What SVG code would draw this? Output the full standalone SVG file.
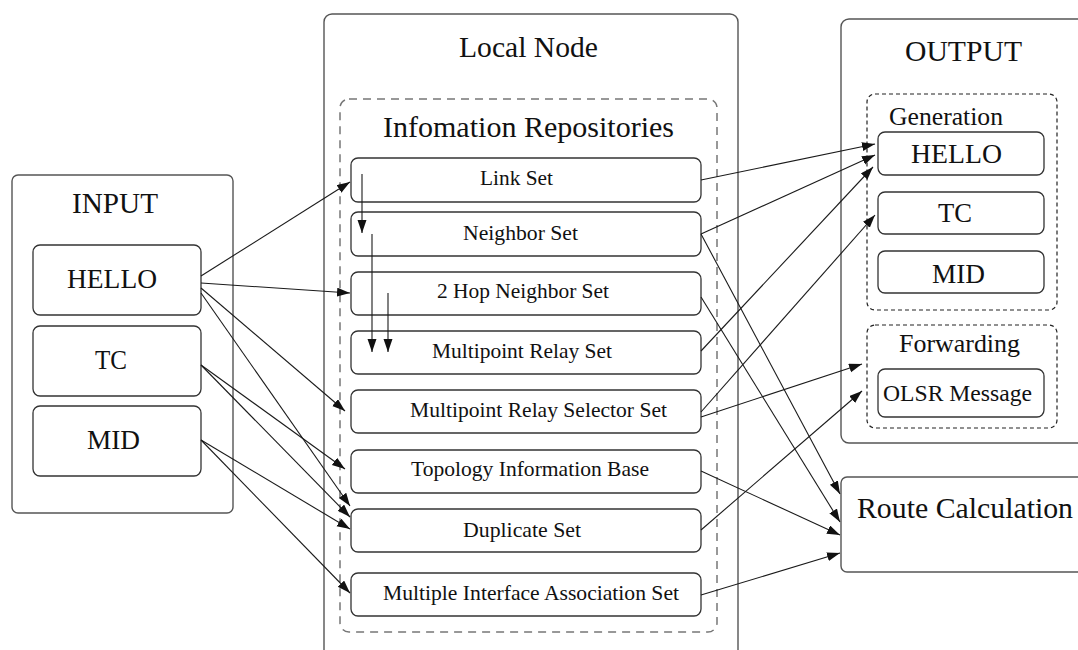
<svg xmlns="http://www.w3.org/2000/svg" width="1078" height="650" viewBox="0 0 1078 650">
  <style>
    .frame { fill: #fff; stroke: #555; stroke-width: 1.4; }
    .box { fill: #fff; stroke: #333; stroke-width: 1.3; }
    .repo { fill: none; stroke: #777; stroke-width: 1.5; stroke-dasharray: 8 6; }
    .group { fill: none; stroke: #222; stroke-width: 1.2; stroke-dasharray: 4 3; }
    text { font-family: "Liberation Serif", "Times New Roman", serif; fill: #111; text-anchor: middle; }
    .title { font-size: 29px; }
    .label { font-size: 27px; }
    .set { font-size: 21.5px; }
    .sub { font-size: 25px; }
    .edge { stroke: #1a1a1a; stroke-width: 1.1; fill: none; marker-end: url(#arrow); }
  </style>
  <defs>
    <marker id="arrow" markerUnits="userSpaceOnUse" markerWidth="14" markerHeight="10" refX="13" refY="4.5" orient="auto">
      <path d="M0,0 L13,4.5 L0,9 z" fill="#111"/>
    </marker>
  </defs>
  <rect width="1078" height="650" fill="#fff"/>

  <!-- input side -->
  <g id="input">
    <rect class="frame" x="12" y="175" width="221" height="338" rx="6"/>
    <text class="title" x="115" y="213" textLength="86" lengthAdjust="spacingAndGlyphs">INPUT</text>
  </g>
  <g id="in-hello">
    <rect class="box" x="33" y="245" width="168" height="70" rx="7"/>
    <text class="label" x="112" y="288" textLength="90" lengthAdjust="spacingAndGlyphs">HELLO</text>
  </g>
  <g id="in-tc">
    <rect class="box" x="33" y="326" width="168" height="70" rx="7"/>
    <text class="label" x="111" y="369" textLength="32" lengthAdjust="spacingAndGlyphs">TC</text>
  </g>
  <g id="in-mid">
    <rect class="box" x="33" y="406" width="168" height="70" rx="7"/>
    <text class="label" x="113.5" y="449" textLength="53" lengthAdjust="spacingAndGlyphs">MID</text>
  </g>

  <!-- local node with its repositories -->
  <g id="local-node">
    <rect class="frame" x="324" y="14" width="414" height="660" rx="8"/>
    <text class="title" x="528.5" y="57" textLength="139" lengthAdjust="spacingAndGlyphs">Local Node</text>
  </g>
  <g id="repositories">
    <rect class="repo" x="340" y="99" width="377" height="533" rx="9"/>
    <text class="title" x="528.5" y="137" textLength="291" lengthAdjust="spacingAndGlyphs">Infomation Repositories</text>
  </g>
  <g id="link-set">
    <rect class="box" x="351" y="158" width="350" height="44" rx="7"/>
    <text class="set" x="516.5" y="185" textLength="73" lengthAdjust="spacingAndGlyphs">Link Set</text>
  </g>
  <g id="neighbor-set">
    <rect class="box" x="351" y="212" width="350" height="44" rx="7"/>
    <text class="set" x="520.5" y="240" textLength="115" lengthAdjust="spacingAndGlyphs">Neighbor Set</text>
  </g>
  <g id="two-hop-set">
    <rect class="box" x="351" y="272" width="350" height="43" rx="7"/>
    <text class="set" x="523" y="298" textLength="172" lengthAdjust="spacingAndGlyphs">2 Hop Neighbor Set</text>
  </g>
  <g id="mpr-set">
    <rect class="box" x="351" y="331" width="350" height="43" rx="7"/>
    <text class="set" x="522" y="358" textLength="180" lengthAdjust="spacingAndGlyphs">Multipoint Relay Set</text>
  </g>
  <g id="mpr-selector-set">
    <rect class="box" x="351" y="390" width="350" height="43" rx="7"/>
    <text class="set" x="538.5" y="417" textLength="257" lengthAdjust="spacingAndGlyphs">Multipoint Relay Selector Set</text>
  </g>
  <g id="topology-base">
    <rect class="box" x="351" y="450" width="350" height="43" rx="7"/>
    <text class="set" x="530" y="476" textLength="238" lengthAdjust="spacingAndGlyphs">Topology Information Base</text>
  </g>
  <g id="duplicate-set">
    <rect class="box" x="351" y="509" width="350" height="43" rx="7"/>
    <text class="set" x="522" y="537" textLength="118" lengthAdjust="spacingAndGlyphs">Duplicate Set</text>
  </g>
  <g id="mia-set">
    <rect class="box" x="351" y="573" width="350" height="43" rx="7"/>
    <text class="set" x="531" y="600" textLength="296" lengthAdjust="spacingAndGlyphs">Multiple Interface Association Set</text>
  </g>

  <!-- output side -->
  <g id="output">
    <rect class="frame" x="841" y="19" width="260" height="424" rx="8"/>
    <text class="title" x="963.5" y="61" textLength="117" lengthAdjust="spacingAndGlyphs">OUTPUT</text>
  </g>
  <g id="generation">
    <rect class="group" x="867" y="94" width="190" height="216" rx="8"/>
    <text class="sub" x="946" y="125" textLength="114" lengthAdjust="spacingAndGlyphs">Generation</text>
  </g>
  <g id="out-hello">
    <rect class="box" x="878" y="132" width="166" height="43" rx="7"/>
    <text class="label" x="956.5" y="163" textLength="91" lengthAdjust="spacingAndGlyphs">HELLO</text>
  </g>
  <g id="out-tc">
    <rect class="box" x="878" y="192" width="166" height="42" rx="7"/>
    <text class="label" x="955" y="222" textLength="34" lengthAdjust="spacingAndGlyphs">TC</text>
  </g>
  <g id="out-mid">
    <rect class="box" x="878" y="251" width="166" height="42" rx="7"/>
    <text class="label" x="958.5" y="283" textLength="53" lengthAdjust="spacingAndGlyphs">MID</text>
  </g>
  <g id="forwarding">
    <rect class="group" x="867" y="325" width="190" height="103" rx="8"/>
    <text class="sub" x="959.5" y="352" textLength="121" lengthAdjust="spacingAndGlyphs">Forwarding</text>
  </g>
  <g id="olsr-message">
    <rect class="box" x="878" y="369" width="166" height="48" rx="7"/>
    <text class="set" x="957.5" y="401" style="font-size:23.5px" textLength="149" lengthAdjust="spacingAndGlyphs">OLSR Message</text>
  </g>
  <g id="route-calculation">
    <rect class="frame" x="841" y="477" width="260" height="95" rx="6"/>
    <text class="title" x="965" y="518" textLength="216" lengthAdjust="spacingAndGlyphs">Route Calculation</text>
  </g>

  <!-- connectors -->
  <g id="connectors">
    <!-- input messages into repositories -->
    <line class="edge" x1="201" y1="276" x2="350" y2="182"/>
    <line class="edge" x1="201" y1="283" x2="350" y2="293"/>
    <line class="edge" x1="201" y1="288" x2="345" y2="411"/>
    <line class="edge" x1="201" y1="293" x2="350" y2="506"/>
    <line class="edge" x1="201" y1="365" x2="345" y2="469"/>
    <line class="edge" x1="201" y1="365" x2="350" y2="517"/>
    <line class="edge" x1="201" y1="440" x2="350" y2="529"/>
    <line class="edge" x1="201" y1="440" x2="350" y2="593"/>
    <!-- dependencies between repositories -->
    <line class="edge" x1="362" y1="174" x2="362" y2="233"/>
    <line class="edge" x1="372" y1="234" x2="372" y2="352"/>
    <line class="edge" x1="388" y1="293" x2="388" y2="352"/>
    <!-- repositories to output and route calculation -->
    <line class="edge" x1="701" y1="180" x2="875" y2="144"/>
    <line class="edge" x1="701" y1="234" x2="875" y2="155"/>
    <line class="edge" x1="701" y1="234" x2="840" y2="494"/>
    <line class="edge" x1="701" y1="297" x2="840" y2="522"/>
    <line class="edge" x1="701" y1="351" x2="873" y2="167"/>
    <line class="edge" x1="701" y1="412" x2="875" y2="215"/>
    <line class="edge" x1="701" y1="417" x2="862" y2="364"/>
    <line class="edge" x1="701" y1="471" x2="840" y2="535"/>
    <line class="edge" x1="701" y1="530" x2="862" y2="391"/>
    <line class="edge" x1="701" y1="595" x2="840" y2="553"/>
  </g>
</svg>
